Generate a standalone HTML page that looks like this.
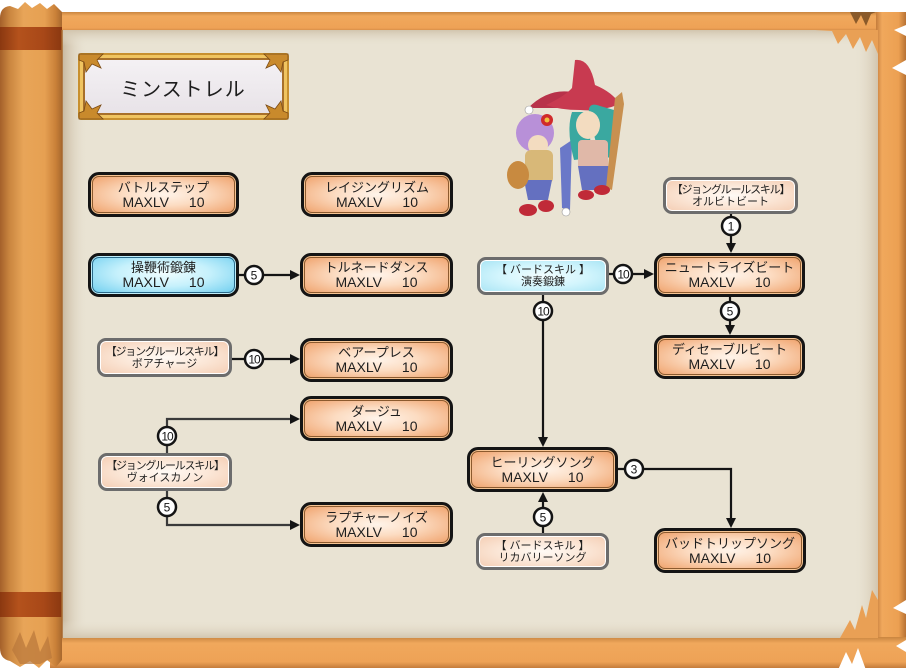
<!DOCTYPE html>
<html><head><meta charset="utf-8">
<style>
html,body{margin:0;padding:0;background:#fff;}
#wrap{position:relative;width:906px;height:670px;overflow:hidden;font-family:"Liberation Sans","Noto Sans CJK JP",sans-serif;}
svg{position:absolute;left:0;top:0;}
.n{position:absolute;box-sizing:border-box;border:3px solid #141414;border-radius:11px;
background:radial-gradient(ellipse at 50% 50%,#fff4ea 0%,#fcdcc2 40%,#f2ad7c 85%,#ec9a62 100%);
box-shadow:inset 0 0 0 1px #f6c493,inset 0 0 0 2px #8c5a2e;text-align:center;display:flex;flex-direction:column;justify-content:center;color:#1e1e1e;}
.n .t{font-size:13px;line-height:15px;}
.n .m{font-size:14px;line-height:15px;}
.n .m i{display:inline-block;width:20px;}
.b{background:radial-gradient(ellipse at 50% 45%,#f0fdff 0%,#c6f1fc 45%,#82d6f2 85%,#56c2ea 100%);box-shadow:inset 0 0 0 1px #bfeefa,inset 0 0 0 2px #2a6a8a;}
.s{position:absolute;box-sizing:border-box;border:3px solid #6c6c6c;border-radius:9px;
background:radial-gradient(ellipse at 50% 50%,#fffaf5 0%,#fbe6d6 50%,#f4cdb3 100%);
box-shadow:inset 0 0 0 1px #fff;text-align:center;display:flex;flex-direction:column;justify-content:center;color:#1e1e1e;font-size:11px;line-height:12px;}
.s .a{letter-spacing:-1.2px;}
.sb{background:radial-gradient(ellipse at 50% 50%,#f2fdff 0%,#d2f5fd 50%,#a8e4f4 100%);}
</style></head><body>
<div id="wrap">
<svg width="906" height="670" viewBox="0 0 906 670">
<defs>
<linearGradient id="roll" x1="0" x2="1" y1="0" y2="0">
<stop offset="0" stop-color="#a4602a"/><stop offset="0.15" stop-color="#c9853f"/><stop offset="0.38" stop-color="#e8a558"/><stop offset="0.72" stop-color="#e6a052"/><stop offset="0.9" stop-color="#c98038"/><stop offset="1" stop-color="#a8682e"/>
</linearGradient>
<linearGradient id="band" x1="0" x2="1" y1="0" y2="0">
<stop offset="0" stop-color="#8a3810"/><stop offset="0.3" stop-color="#b4521c"/><stop offset="0.7" stop-color="#a84818"/><stop offset="1" stop-color="#8a3810"/>
</linearGradient>
<linearGradient id="shL" x1="0" x2="1"><stop offset="0" stop-color="#c7b79e"/><stop offset="1" stop-color="#e9e3d3" stop-opacity="0"/></linearGradient>
<linearGradient id="shR" x1="0" x2="1"><stop offset="0" stop-color="#e9e3d3" stop-opacity="0"/><stop offset="1" stop-color="#d2c5ae"/></linearGradient>
<linearGradient id="shT" x1="0" x2="0" y1="0" y2="1"><stop offset="0" stop-color="#d2c5ae"/><stop offset="1" stop-color="#e9e3d3" stop-opacity="0"/></linearGradient>
<linearGradient id="shB" x1="0" x2="0" y1="0" y2="1"><stop offset="0" stop-color="#e9e3d3" stop-opacity="0"/><stop offset="1" stop-color="#d2c5ae"/></linearGradient>
<linearGradient id="barH" x1="0" x2="0" y1="0" y2="1"><stop offset="0" stop-color="#c98540"/><stop offset="0.2" stop-color="#f0a85c"/><stop offset="0.8" stop-color="#eea256"/><stop offset="1" stop-color="#c47c3c"/></linearGradient>
<linearGradient id="barV" x1="0" x2="1"><stop offset="0" stop-color="#c47c3c"/><stop offset="0.2" stop-color="#f0a85c"/><stop offset="0.75" stop-color="#eca052"/><stop offset="1" stop-color="#b87234"/></linearGradient>
<linearGradient id="plq" x1="0" x2="0" y1="0" y2="1"><stop offset="0" stop-color="#f4f1f4"/><stop offset="1" stop-color="#e8e3e8"/></linearGradient>
</defs>
<rect width="906" height="670" fill="#fff"/>
<rect x="50" y="12" width="856" height="20" fill="url(#barH)"/>
<rect x="876" y="12" width="30" height="655" fill="url(#barV)"/>
<rect x="50" y="637" width="856" height="31" fill="url(#barH)"/>
<rect x="62" y="30" width="816" height="608" fill="#e9e3d3"/>
<rect x="62" y="30" width="26" height="608" fill="url(#shL)"/>
<rect x="854" y="30" width="24" height="608" fill="url(#shR)"/>
<rect x="62" y="30" width="816" height="16" fill="url(#shT)"/>
<rect x="62" y="620" width="816" height="18" fill="url(#shB)"/>
<polygon points="815,30 832,31 838,44 846,34 853,49 860,37 866,52 872,40 878,54 878,30" fill="#e9a055"/>
<polygon points="850,12 856,24 861,15 866,26 871,14 876,12" fill="#8a5a2a"/>
<polygon points="906,25 894,30 906,36" fill="#fff"/>
<polygon points="906,60 892,68 906,75" fill="#fff"/>
<polygon points="840,638 850,620 855,630 862,605 866,618 872,590 878,600 878,638" fill="#e9a055"/>
<polygon points="906,600 893,608 906,614" fill="#fff"/>
<polygon points="906,640 896,646 906,652" fill="#fff"/>
<polygon points="838,670 846,652 852,664 858,648 866,670" fill="#fff"/>
<path d="M0,18 Q0,7 10,6 L18,9 L25,2 L32,8 L40,3 L47,9 L54,4 L62,12 L62,660 L56,667 L47,660 L39,668 L30,661 L20,667 L10,661 Q0,659 0,648 Z" fill="url(#roll)"/>
<rect x="0" y="27" width="62" height="23" fill="url(#band)"/>
<rect x="0" y="592" width="62" height="25" fill="url(#band)"/>
<path d="M12,650 L20,632 L26,648 L34,630 L40,652 L48,636 L52,658 L40,664 L20,664 Z" fill="#b8763a" opacity="0.7"/>
<line x1="62" y1="30" x2="62" y2="638" stroke="#a8682e" stroke-width="1.5"/>
<rect x="78" y="53" width="211" height="67" rx="3" fill="#c8902f"/>
<rect x="80" y="55" width="207" height="63" rx="2" fill="#f0c460"/>
<rect x="83" y="58" width="201" height="57" fill="#a8702a"/>
<rect x="85" y="60" width="197" height="53" fill="url(#plq)"/>
<g fill="#c98a2c" stroke="#7a4a14" stroke-width="0.8">
<path d="M79,54 l24,0 l-6,6 l4,8 l-9,-4 l-6,8 l-2,-10 l-5,-2 Z"/>
<path d="M288,54 l-24,0 l6,6 l-4,8 l9,-4 l6,8 l2,-10 l5,-2 Z"/>
<path d="M79,119 l24,0 l-6,-6 l4,-8 l-9,4 l-6,-8 l-2,10 l-5,2 Z"/>
<path d="M288,119 l-24,0 l6,-6 l-4,-8 l9,4 l6,-8 l2,10 l5,2 Z"/>
</g>
<text x="183" y="96" text-anchor="middle" font-family="Liberation Sans, Noto Sans CJK JP, sans-serif" font-size="20" letter-spacing="1" fill="#1e1e1e">ミンストレル</text>
<g>
<path d="M560,148 L572,140 L570,210 L562,208 Z" fill="#6a78c8"/>
<circle cx="566" cy="212" r="4" fill="#fff" stroke="#999" stroke-width="0.6"/>
<path d="M528,108 Q548,88 572,92 L560,108 Z" fill="#b8324a"/>
<circle cx="529" cy="110" r="4" fill="#fff" stroke="#999" stroke-width="0.6"/>
<path d="M575,60 Q590,58 595,85 Q612,92 620,104 Q600,112 580,110 Q560,110 546,105 Q565,96 572,88 Z" fill="#c83a50"/>
<path d="M590,120 Q585,100 600,106 L614,110 L612,160 L598,150 Z" fill="#3aa8a0"/>
<path d="M572,112 Q566,130 574,160 L590,158 Q592,126 584,112 Z" fill="#3aa8a0"/>
<ellipse cx="588" cy="125" rx="12" ry="14" fill="#f3dcc0"/>
<rect x="578" y="140" width="30" height="30" rx="4" fill="#e0b8a8"/>
<path d="M578,166 L610,166 L606,190 L582,190 Z" fill="#6470c0"/>
<path d="M615,98 L622,92 L624,104 L612,190 L606,188 Z" fill="#c89050"/>
<ellipse cx="586" cy="195" rx="8" ry="5" fill="#c02a38"/>
<ellipse cx="602" cy="190" rx="8" ry="5" fill="#c02a38"/>
<ellipse cx="535" cy="133" rx="19" ry="19" fill="#b890d8"/>
<ellipse cx="538" cy="145" rx="10" ry="10" fill="#f3dcc0"/>
<circle cx="547" cy="120" r="6" fill="#d02a2a"/>
<circle cx="547" cy="120" r="2.5" fill="#f0c040"/>
<rect x="525" y="150" width="28" height="34" rx="6" fill="#d8b878"/>
<path d="M524,180 L552,180 L548,200 L528,200 Z" fill="#6470c0"/>
<ellipse cx="518" cy="175" rx="11" ry="14" fill="#c88a40"/>
<ellipse cx="528" cy="210" rx="9" ry="6" fill="#c02a38"/>
<ellipse cx="546" cy="206" rx="8" ry="6" fill="#c02a38"/>
</g>
<g stroke="#141414" stroke-width="2.2" fill="none">
<path d="M239,275 H292"/>
<path d="M232,359 H292"/>
<path d="M167,453 V419 H292" stroke="#3a3a3a"/>
<path d="M167,491 V525 H292" stroke="#3a3a3a"/>
<path d="M731,214 V245"/>
<path d="M609,274 H646"/>
<path d="M730,297 V327"/>
<path d="M543,295 V439"/>
<path d="M543,533 V500"/>
<path d="M618,469 H731 V520"/>
</g>
<g fill="#141414">
<polygon points="300,275 290,270 290,280"/>
<polygon points="300,359 290,354 290,364"/>
<polygon points="300,419 290,414 290,424"/>
<polygon points="300,525 290,520 290,530"/>
<polygon points="731,253 726,243 736,243"/>
<polygon points="654,274 644,269 644,279"/>
<polygon points="730,335 725,325 735,325"/>
<polygon points="543,447 538,437 548,437"/>
<polygon points="543,492 538,502 548,502"/>
<polygon points="731,528 726,518 736,518"/>
</g>
<g fill="#fff" stroke="#141414" stroke-width="2.5">
<circle cx="254" cy="275" r="9"/>
<circle cx="254" cy="359" r="9"/>
<circle cx="167" cy="436" r="9"/>
<circle cx="167" cy="507" r="9"/>
<circle cx="731" cy="226" r="9"/>
<circle cx="623" cy="274" r="9"/>
<circle cx="730" cy="311" r="9"/>
<circle cx="543" cy="311" r="9"/>
<circle cx="543" cy="517" r="9"/>
<circle cx="634" cy="469" r="9"/>
</g>
<g font-family="Liberation Sans, sans-serif" font-size="12" fill="#141414" text-anchor="middle">
<text x="254" y="279.5">5</text>
<text x="254" y="363.5" letter-spacing="-1">10</text>
<text x="167" y="440.5" letter-spacing="-1">10</text>
<text x="167" y="511.5">5</text>
<text x="731" y="230.5">1</text>
<text x="623" y="278.5" letter-spacing="-1">10</text>
<text x="730" y="315.5">5</text>
<text x="543" y="315.5" letter-spacing="-1">10</text>
<text x="543" y="521.5">5</text>
<text x="634" y="473.5">3</text>
</g>
</svg>

<div class="n" style="left:88px;top:172px;width:151px;height:45px;"><div class="t">バトルステップ</div><div class="m">MAXLV<i></i>10</div></div>
<div class="n" style="left:301px;top:172px;width:152px;height:45px;"><div class="t">レイジングリズム</div><div class="m">MAXLV<i></i>10</div></div>
<div class="n b" style="left:88px;top:253px;width:151px;height:44px;"><div class="t">操鞭術鍛錬</div><div class="m">MAXLV<i></i>10</div></div>
<div class="n" style="left:300px;top:253px;width:153px;height:44px;"><div class="t">トルネードダンス</div><div class="m">MAXLV<i></i>10</div></div>
<div class="n" style="left:300px;top:338px;width:153px;height:44px;"><div class="t">ベアープレス</div><div class="m">MAXLV<i></i>10</div></div>
<div class="n" style="left:300px;top:396px;width:153px;height:45px;"><div class="t">ダージュ</div><div class="m">MAXLV<i></i>10</div></div>
<div class="n" style="left:300px;top:502px;width:153px;height:45px;"><div class="t">ラプチャーノイズ</div><div class="m">MAXLV<i></i>10</div></div>
<div class="n" style="left:654px;top:253px;width:151px;height:44px;"><div class="t">ニュートライズビート</div><div class="m">MAXLV<i></i>10</div></div>
<div class="n" style="left:654px;top:335px;width:151px;height:44px;"><div class="t">ディセーブルビート</div><div class="m">MAXLV<i></i>10</div></div>
<div class="n" style="left:467px;top:447px;width:151px;height:45px;"><div class="t">ヒーリングソング</div><div class="m">MAXLV<i></i>10</div></div>
<div class="n" style="left:654px;top:528px;width:152px;height:45px;"><div class="t">バッドトリップソング</div><div class="m">MAXLV<i></i>10</div></div>

<div class="s" style="left:97px;top:338px;width:135px;height:39px;"><div class="a">【ジョングルールスキル】</div><div>ボアチャージ</div></div>
<div class="s" style="left:98px;top:453px;width:134px;height:38px;"><div class="a">【ジョングルールスキル】</div><div>ヴォイスカノン</div></div>
<div class="s sb" style="left:477px;top:257px;width:132px;height:38px;"><div>【 バードスキル 】</div><div>演奏鍛錬</div></div>
<div class="s" style="left:663px;top:177px;width:135px;height:37px;"><div class="a">【ジョングルールスキル】</div><div>オルビトビート</div></div>
<div class="s" style="left:476px;top:533px;width:133px;height:37px;"><div>【 バードスキル 】</div><div>リカバリーソング</div></div>
</div>
</body></html>
